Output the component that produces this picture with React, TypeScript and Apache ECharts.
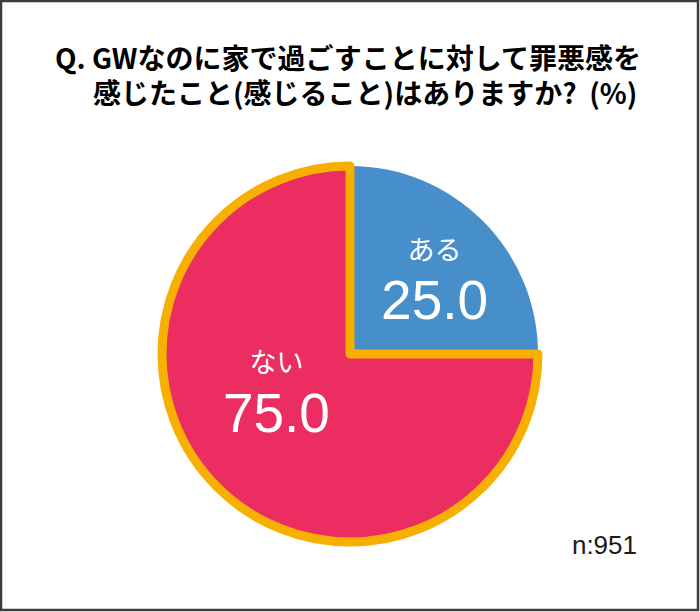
import React, { useEffect, useRef } from "react";
import * as echarts from "echarts";

const categories = ["ある", "ない"];
const values = [25.0, 75.0];
const titleLines = [
  "Q. GWなのに家で過ごすことに対して罪悪感を",
  "感じたこと(感じること)はありますか?  (%)",
];
const sampleNote = "n:951";

const BLUE = "#478FCB";
const RED = "#EC2D62";
const ORANGE = "#F7B000";

export default function App() {
  const ref = useRef<HTMLDivElement>(null);
  useEffect(() => {
    document.body.style.margin = "0";
    const chart = echarts.init(ref.current!, null, { renderer: "svg" });
    const labelShift = [
      { dx: 16, dy: -5 },
      { dx: -5, dy: -30 },
    ];
    const t = {
      fontSize: 28,
      lineHeight: 35,
      fontWeight: "bold",
      fontFamily: "Noto Sans CJK JP",
      color: "#231815",
    };
    chart.setOption({
      animation: false,
      backgroundColor: "#ffffff",
      graphic: [
        {
          type: "rect",
          shape: { x: 1, y: 1, width: 697, height: 609 },
          style: { fill: "none", stroke: "#3c3c3c", lineWidth: 2.5 },
          silent: true,
        },
        {
          type: "text",
          x: 55,
          y: 39,
          style: {
            text: `{t|${titleLines[0]}}\n{pad| }{t|${titleLines[1]}}`,
            verticalAlign: "top",
            rich: {
              t,
              pad: { ...t, width: 38 },
            },
          },
        },
        {
          type: "text",
          x: 637,
          y: 545,
          style: {
            text: sampleNote,
            fontSize: 26,
            fontFamily: "Liberation Sans",
            fill: "#231815",
            align: "right",
            verticalAlign: "middle",
          },
        },
      ],
      series: [
        {
          type: "pie",
          center: [350, 354],
          radius: 188,
          startAngle: 90,
          clockwise: true,
          silent: true,
          label: {
            show: true,
            position: "inside",
            formatter: (p: any) => `{n|${p.name}}\n{v|${Number(p.value).toFixed(1)}}`,
            rich: {
              n: {
                fontSize: 27,
                lineHeight: 40,
                color: "#ffffff",
                fontFamily: "Noto Sans CJK JP",
              },
              v: {
                fontSize: 55,
                lineHeight: 64,
                color: "#ffffff",
                fontFamily: "Liberation Sans",
              },
            },
          },
          labelLayout: (params: any) => labelShift[params.dataIndex],
          labelLine: { show: false },
          data: categories.map((c, i) => ({
            name: c,
            value: values[i],
            itemStyle:
              i === 0
                ? { color: BLUE, borderWidth: 0 }
                : { color: RED, borderColor: ORANGE, borderWidth: 9 },
          })),
        },
      ],
    });
    return () => chart.dispose();
  }, []);
  return (
    <div
      ref={ref}
      style={{ position: "absolute", left: 0, top: 0, width: 700, height: 612 }}
    />
  );
}
